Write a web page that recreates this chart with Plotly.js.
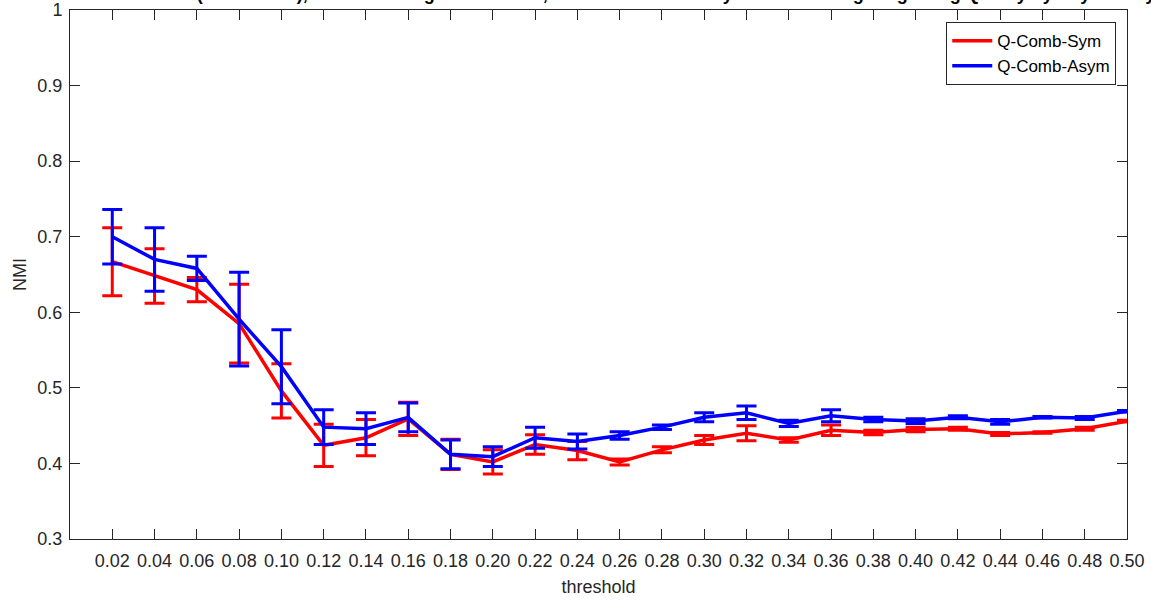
<!DOCTYPE html>
<html>
<head>
<meta charset="utf-8">
<script src="https://cdn.plot.ly/plotly-3.0.1.min.js"></script>
<style>html,body{margin:0;padding:0;background:#fff;}#chart{width:1151px;height:601px;}</style>
</head>
<body>
<div id="chart"></div>
<script>
const thresholds = [0.02,0.04,0.06,0.08,0.10,0.12,0.14,0.16,0.18,0.20,0.22,0.24,0.26,0.28,0.30,0.32,0.34,0.36,0.38,0.40,0.42,0.44,0.46,0.48,0.50];
const symMean = [0.667,0.648,0.630,0.585,0.496,0.424,0.434,0.459,0.412,0.402,0.425,0.417,0.402,0.418,0.431,0.440,0.431,0.444,0.441,0.445,0.446,0.439,0.441,0.446,0.456];
const symErr  = [0.045,0.036,0.016,0.052,0.036,0.028,0.024,0.022,0.020,0.016,0.013,0.012,0.004,0.004,0.006,0.010,0.003,0.007,0.003,0.003,0.002,0.002,0.001,0.002,0.001];
const asymMean = [0.700,0.670,0.658,0.591,0.528,0.448,0.446,0.461,0.412,0.409,0.434,0.429,0.437,0.448,0.461,0.467,0.453,0.463,0.458,0.456,0.461,0.455,0.461,0.460,0.469];
const asymErr  = [0.036,0.042,0.016,0.062,0.049,0.023,0.021,0.019,0.019,0.013,0.014,0.010,0.005,0.003,0.006,0.009,0.004,0.008,0.003,0.003,0.002,0.003,0.001,0.002,0.001];
const seriesNames = ['Q-Comb-Sym','Q-Comb-Asym'];
const titleText = 'NMI vs. threshold (mean ± std), results averaged over runs, based on community-detection weighting using Quality by Asymmetry';

const axisColor = '#262626';
const font = 'Liberation Sans, Arial, sans-serif';

function mk(name, y, err, color){
  return {
    type:'scatter', mode:'lines', name:name,
    x:thresholds, y:y,
    line:{color:color, width:3.5},
    error_y:{type:'data', array:err, visible:true, color:color, thickness:3, width:10}
  };
}

const data = [
  mk(seriesNames[0], symMean, symErr, '#ff0000'),
  mk(seriesNames[1], asymMean, asymErr, '#0000ff')
];

const layout = {
  width:1151, height:601,
  paper_bgcolor:'#fff', plot_bgcolor:'#fff',
  margin:{l:70, r:24, t:10, b:62},
  font:{family:font, size:18, color:axisColor},
  title:{text:titleText, font:{family:font, size:18, color:'#000', weight:'bold'},
         x:0.52, xanchor:'center', yref:'container', y:1, yanchor:'bottom', automargin:false},
  showlegend:true,
  legend:{x:0.829, y:0.977, xanchor:'left', yanchor:'top', bgcolor:'#fff',
          bordercolor:axisColor, borderwidth:1, font:{family:font, size:17, color:'#000'},
          itemwidth:40, tracegroupgap:0},
  xaxis:{
    range:[0,0.5], tickvals:thresholds, tickformat:'.2f',
    ticks:'inside', ticklen:10, tickwidth:1, tickcolor:axisColor,
    showline:true, linecolor:axisColor, linewidth:1, mirror:'ticks',
    showgrid:false, zeroline:false, ticklabelstandoff:5,
    tickfont:{family:font, size:18, color:axisColor},
    title:{text:'threshold', font:{family:font, size:18, color:axisColor}, standoff:10}
  },
  yaxis:{
    range:[0.3,1], dtick:0.1, tick0:0.3,
    ticks:'inside', ticklen:10, tickwidth:1, tickcolor:axisColor,
    showline:true, linecolor:axisColor, linewidth:1, mirror:'ticks',
    showgrid:false, zeroline:false, ticklabelstandoff:3,
    tickfont:{family:font, size:18, color:axisColor},
    title:{text:'NMI', font:{family:font, size:18, color:axisColor}, standoff:6}
  }
};

Plotly.newPlot('chart', data, layout, {displayModeBar:false, staticPlot:true});
</script>
</body>
</html>
